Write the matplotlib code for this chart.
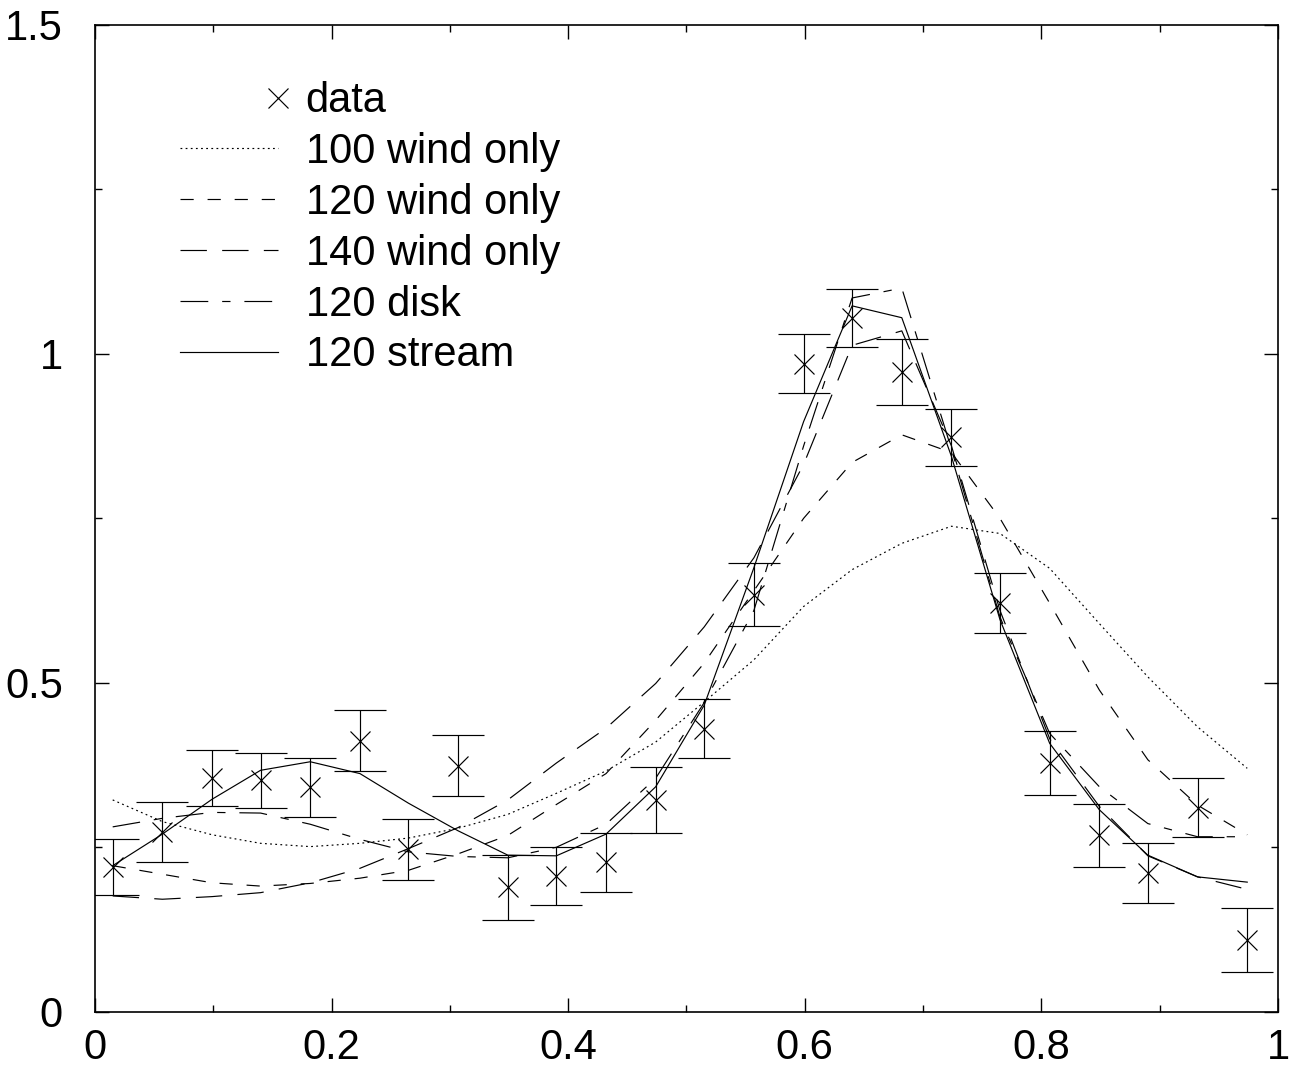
import numpy as np
import matplotlib
matplotlib.use('Agg')
import matplotlib.pyplot as plt
from matplotlib.lines import Line2D
from matplotlib.legend_handler import HandlerLine2D
from matplotlib.ticker import MultipleLocator, FuncFormatter

plt.rcParams.update({
    'font.family': ['Liberation Sans', 'DejaVu Sans'],
    'font.size': 30,
    'lines.scale_dashes': False,
})

# ── Data ──────────────────────────────────────────────────────
phase = [0.015, 0.057, 0.099, 0.140, 0.182, 0.224, 0.265, 0.307,
         0.349, 0.390, 0.432, 0.474, 0.515, 0.557, 0.599, 0.640,
         0.682, 0.724, 0.765, 0.807, 0.849, 0.890, 0.932, 0.974]

flux = [0.220, 0.273, 0.355, 0.352, 0.341, 0.412, 0.247, 0.374,
        0.189, 0.207, 0.227, 0.322, 0.430, 0.634, 0.985, 1.055,
        0.972, 0.873, 0.621, 0.378, 0.268, 0.211, 0.310, 0.109]

flux_err = [0.042, 0.046, 0.043, 0.042, 0.045, 0.046, 0.046, 0.046,
            0.049, 0.044, 0.045, 0.050, 0.045, 0.048, 0.045, 0.044,
            0.050, 0.043, 0.046, 0.048, 0.048, 0.045, 0.045, 0.048]

wind100 = [0.322, 0.289, 0.269, 0.256, 0.251, 0.256, 0.264, 0.279,
           0.300, 0.332, 0.366, 0.410, 0.471, 0.535, 0.616, 0.672,
           0.712, 0.738, 0.727, 0.674, 0.590, 0.509, 0.433, 0.370]

wind120 = [0.222, 0.209, 0.196, 0.191, 0.195, 0.203, 0.215, 0.240,
           0.268, 0.315, 0.362, 0.443, 0.530, 0.640, 0.750, 0.835,
           0.877, 0.850, 0.750, 0.621, 0.489, 0.383, 0.314, 0.269]

wind140 = [0.176, 0.171, 0.175, 0.181, 0.196, 0.218, 0.248, 0.280,
           0.322, 0.378, 0.431, 0.499, 0.585, 0.690, 0.832, 1.013,
           1.035, 0.860, 0.610, 0.415, 0.312, 0.237, 0.205, 0.186]

disk120 = [0.281, 0.294, 0.303, 0.302, 0.285, 0.262, 0.243, 0.236,
           0.234, 0.250, 0.285, 0.355, 0.470, 0.610, 0.860, 1.085,
           1.100, 0.855, 0.600, 0.423, 0.342, 0.286, 0.266, 0.266]

stream120 = [0.222, 0.270, 0.323, 0.367, 0.380, 0.362, 0.317, 0.275,
             0.238, 0.237, 0.270, 0.342, 0.466, 0.675, 0.897, 1.073,
             1.055, 0.844, 0.596, 0.408, 0.307, 0.238, 0.205, 0.197]


class RightMarker(HandlerLine2D):
    # put the single marker at the right end of the legend handle
    def get_xdata(self, legend, xdescent, ydescent, width, height, fontsize):
        xr = -xdescent + width
        return [xr, xr], [xr]


fig = plt.figure(figsize=(12.9, 10.67), dpi=100)
ax = fig.add_axes([0.0736, 0.0518, 0.9171, 0.9248])

LW = 0.85
ax.errorbar(phase, flux, yerr=flux_err, fmt='x', color='k', ms=14.4, mew=LW,
            elinewidth=LW, capsize=19, capthick=LW, zorder=3)

ax.plot(phase, wind100, color='k', lw=LW, ls=(0, (1.3, 2.4)), label='100 wind only')
ax.plot(phase, wind120, color='k', lw=LW, ls=(0, (9.5, 10)), label='120 wind only')
ax.plot(phase, wind140, color='k', lw=LW, ls=(0, (19, 11)), label='140 wind only')
ax.plot(phase, disk120, color='k', lw=LW, ls=(0, (20, 10, 6, 10)), label='120 disk')
ax.plot(phase, stream120, color='k', lw=LW, ls='-', label='120 stream')

ax.set_xlim(0, 1)
ax.set_ylim(0, 1.5)
ax.xaxis.set_major_locator(MultipleLocator(0.2))
ax.xaxis.set_minor_locator(MultipleLocator(0.1))
ax.yaxis.set_major_locator(MultipleLocator(0.5))
ax.yaxis.set_minor_locator(MultipleLocator(0.25))
fmt = FuncFormatter(lambda v, p: f'{v:g}')
ax.xaxis.set_major_formatter(fmt)
ax.yaxis.set_major_formatter(fmt)
ax.tick_params(which='both', direction='in', top=True, right=True, width=1.0)
ax.tick_params(which='major', length=10, labelsize=30)
ax.tick_params(axis='x', which='major', pad=12)
ax.tick_params(axis='y', which='major', pad=23)
ax.tick_params(which='minor', length=5)
for s in ax.spines.values():
    s.set_linewidth(1.2)

data_proxy = Line2D([], [], ls='none', marker='x', color='k', ms=14.4, mew=LW)
handles, labels = ax.get_legend_handles_labels()
handles = [data_proxy] + handles
labels = ['data'] + labels
ax.legend(handles, labels, loc='upper left', bbox_to_anchor=(0.072, 0.943),
          frameon=False, fontsize=30, handlelength=2.36, handletextpad=0.65,
          labelspacing=0.26, borderpad=0, borderaxespad=0, numpoints=1,
          handler_map={data_proxy: RightMarker()})

fig.savefig('out.png', dpi=100)
